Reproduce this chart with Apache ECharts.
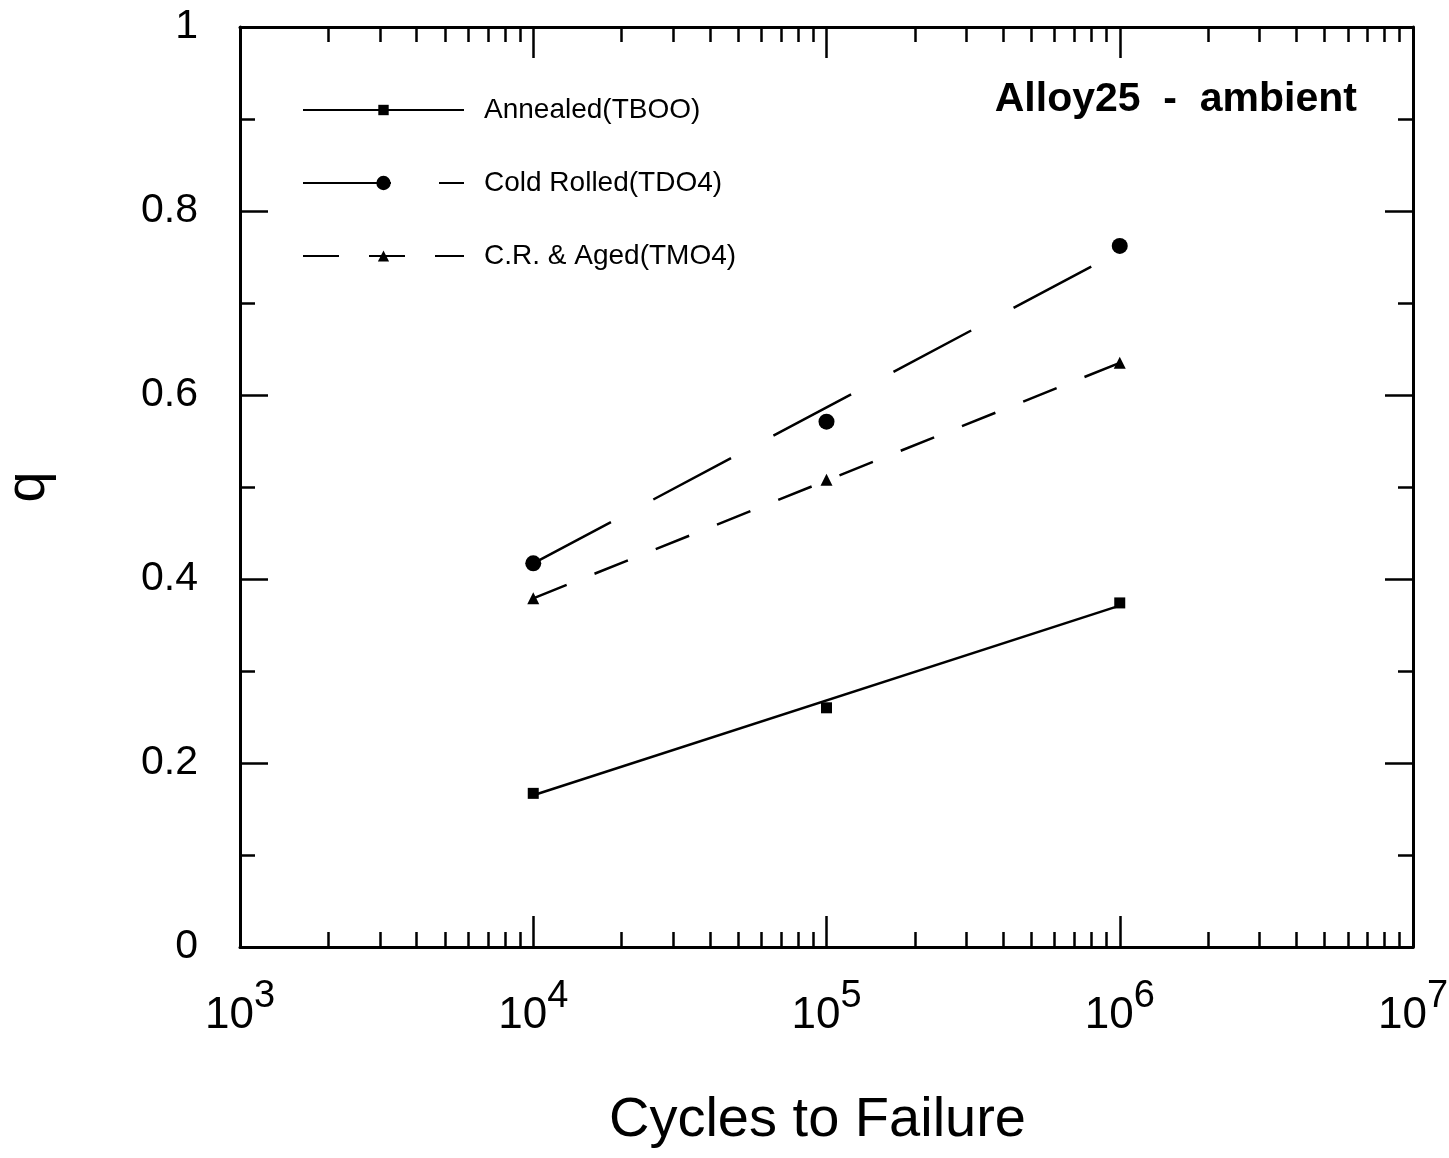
<!DOCTYPE html>
<html><head><meta charset="utf-8">
<script src="https://cdn.jsdelivr.net/npm/echarts@6/dist/echarts.min.js"></script>
<style>html,body{margin:0;padding:0;background:#fff}#c{width:1449px;height:1158px}</style>
</head><body><div id="c"></div>
<script>
// ---- data ----
const seriesNames = ['Annealed(TBOO)', 'Cold Rolled(TDO4)', 'C.R. & Aged(TMO4)'];
const cycles = [1e4, 1e5, 1e6];
const annealedQ = [0.167, 0.260, 0.374];
const coldRolledQ = [0.417, 0.571, 0.762];
const agedQ = [0.379, 0.508, 0.635];
const fitCycles = [1e4, 1e6];
const annealedFit = [0.165, 0.371];
const coldRolledFit = [0.417, 0.756];
const agedFit = [0.379, 0.635];
const yTickLabels = ['0', '0.2', '0.4', '0.6', '0.8', '1'];
const xTickBase = '10';
const titleText = 'Alloy25  -  ambient';
const xAxisName = 'Cycles to Failure';
const yAxisName = 'q';

// ---- build ----
const FONT = '"Liberation Sans", Arial, Helvetica, sans-serif';
const zip = (xs, ys) => xs.map((x, i) => [x, ys[i]]);
const chart = echarts.init(document.getElementById('c'), null, {renderer: 'canvas'});

const xCommon = {
  type: 'log', logBase: 10, min: 1e3, max: 1e7,
  axisLine: {show: true, onZero: false, lineStyle: {color: '#000', width: 3}},
  axisTick: {show: true, inside: true, length: 31, lineStyle: {color: '#000', width: 2.5}},
  minorTick: {show: true, splitNumber: 9, length: 15, lineStyle: {color: '#000', width: 2.5}},
  splitLine: {show: false}, minorSplitLine: {show: false}
};
const yCommon = {
  type: 'value', min: 0, max: 1, interval: 0.2,
  axisLine: {show: true, onZero: false, lineStyle: {color: '#000', width: 3}},
  axisTick: {show: true, inside: true, length: 28, lineStyle: {color: '#000', width: 2.5}},
  minorTick: {show: true, splitNumber: 2, length: 15, lineStyle: {color: '#000', width: 2.5}},
  splitLine: {show: false}, minorSplitLine: {show: false}
};

const legendRowY = [110, 183, 256];
const legendIconH = [13, 18, 14];

const option = {
  backgroundColor: '#fff',
  animation: false,
  grid: {left: 240, right: 36, top: 27, bottom: 211, containLabel: false, outerBoundsMode: 'none'},
  title: {
    text: titleText, right: 92, top: 79, padding: 0,
    textStyle: {fontFamily: FONT, fontWeight: 'bold', fontSize: 41, color: '#000'}
  },
  legend: seriesNames.map((n, i) => ({
    data: [n], orient: 'vertical', left: 302, top: legendRowY[i] - 14,
    padding: 0, itemWidth: 161, itemHeight: legendIconH[i], selectedMode: false,
    textStyle: {fontFamily: FONT, fontSize: 28, color: '#000', padding: [0, 0, 0, 15]}
  })),
  xAxis: [
    Object.assign({}, xCommon, {
      position: 'bottom',
      name: xAxisName, nameLocation: 'middle', nameGap: 146,
      nameTextStyle: {fontFamily: FONT, fontSize: 56, color: '#000', padding: [0, 18, 0, 0]},
      axisLabel: {
        show: true, margin: 31,
        formatter: v => '{b|' + xTickBase + '}{s|' + Math.round(Math.log10(v)) + '}',
        rich: {
          b: {fontFamily: FONT, fontSize: 44, color: '#000', lineHeight: 60, verticalAlign: 'bottom'},
          s: {fontFamily: FONT, fontSize: 38, color: '#000', lineHeight: 26, verticalAlign: 'top'}
        }
      }
    }),
    Object.assign({}, xCommon, {position: 'top', axisLabel: {show: false}})
  ],
  yAxis: [
    Object.assign({}, yCommon, {
      position: 'left',
      name: yAxisName, nameLocation: 'middle', nameGap: 183, nameRotate: 90,
      nameTextStyle: {fontFamily: FONT, fontSize: 56, color: '#000'},
      axisLabel: {
        show: true, margin: 42, fontFamily: FONT, fontSize: 41, color: '#000',
        formatter: v => yTickLabels[Math.round(v / 0.2)]
      }
    }),
    Object.assign({}, yCommon, {position: 'right', axisLabel: {show: false}})
  ],
  series: [
    {
      name: seriesNames[0], type: 'line', data: zip(fitCycles, annealedFit),
      symbol: 'rect', showSymbol: false, color: '#000',
      lineStyle: {color: '#000', width: 2.5, type: 'solid'}, silent: true
    },
    {
      name: seriesNames[1], type: 'line', data: zip(fitCycles, coldRolledFit),
      symbol: 'circle', showSymbol: false, color: '#000',
      lineStyle: {color: '#000', width: 2.5, type: [88, 48]}, silent: true
    },
    {
      name: seriesNames[2], type: 'line', data: zip(fitCycles, agedFit),
      symbol: 'triangle', showSymbol: false, color: '#000',
      lineStyle: {color: '#000', width: 2.5, type: [36, 30]}, silent: true
    },
    {name: 'pts0', type: 'scatter', data: zip(cycles, annealedQ), symbol: 'rect', symbolSize: 11, itemStyle: {color: '#000', opacity: 1}},
    {name: 'pts1', type: 'scatter', data: zip(cycles, coldRolledQ), symbol: 'circle', symbolSize: 16, itemStyle: {color: '#000', opacity: 1}},
    {name: 'pts2', type: 'scatter', data: zip(cycles, agedQ), symbol: 'triangle', symbolSize: 12, itemStyle: {color: '#000', opacity: 1}}
  ]
};
chart.setOption(option);
</script>
</body></html>
